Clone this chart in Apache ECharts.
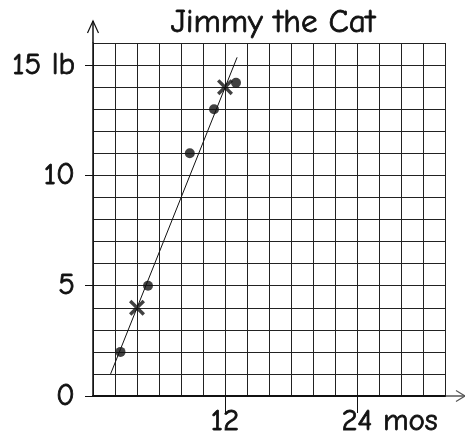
<!DOCTYPE html>
<html>
<head>
<meta charset="utf-8">
<script src="https://cdn.jsdelivr.net/npm/echarts@6/dist/echarts.min.js"></script>
<style>
html,body{margin:0;padding:0;background:#fff;}
#c{width:465px;height:438px;}
</style>
</head>
<body>
<div id="c"></div>
<script>
// ---- data ----
var titleText = 'Jimmy the Cat';
var xTickValues = [12, 24];
var xTickLabels = ['12', '24 mos'];
var yTickValues = [0, 5, 10, 15];
var yTickLabels = ['0', '5', '10', '15 lb'];
var dotMonths = [2.5, 5, 8.8, 11, 13];
var dotWeights = [2, 5, 11, 13, 14.2];
var crossMonths = [4, 12];
var crossWeights = [4, 14];
var trendMonths = [1.6, 13.1];
var trendWeights = [1, 15.35];

var FONT = '"Comic Sans MS", "Comic Neue", "DejaVu Sans", sans-serif';
var INK = '#111';
var LABEL_SIZE = 31;
var THICK = {textBorderColor: INK, textBorderWidth: 0.8};

function pairs(xs, ys) { return xs.map(function (x, i) { return [x, ys[i]]; }); }
function textWidth(s, size) {
  var cv = document.createElement('canvas').getContext('2d');
  cv.font = size + 'px ' + FONT;
  return cv.measureText(s).width;
}
function ext(a, b) { return Object.assign({}, a, b); }

var chart = echarts.init(document.getElementById('c'), null, {renderer: 'canvas'});
var gridAxisCommon = {
  type: 'value', show: true,
  axisLine: {show: false}, axisTick: {show: false}, axisLabel: {show: false},
  splitLine: {show: true, lineStyle: {color: '#222', width: 1}}
};
var labelText = ext({fontSize: LABEL_SIZE, fontFamily: FONT, color: INK}, THICK);
var option = {
  animation: false,
  backgroundColor: '#fff',
  title: {
    text: titleText,
    left: 268, top: 1, textAlign: 'center',
    textStyle: ext({fontFamily: FONT, fontSize: 33, fontWeight: 'normal', color: INK}, THICK)
  },
  grid: {left: 93, right: 20, top: 43, bottom: 42, containLabel: false},
  xAxis: [
    ext(gridAxisCommon, {min: 0, max: 32, interval: 2, position: 'bottom'}),
    {
      type: 'value', min: 0, max: 32, interval: 12, position: 'bottom',
      axisLine: {show: true, onZero: false, lineStyle: {color: INK, width: 2}},
      axisTick: {show: true, customValues: xTickValues, length: 17, lineStyle: {color: INK, width: 1}},
      axisLabel: ext(labelText, {
        show: true, customValues: xTickValues, margin: 10,
        formatter: function (v) {
          var i = xTickValues.indexOf(v);
          var s = i >= 0 ? xTickLabels[i] : '';
          if (s.indexOf(' ') > 0) {
            var parts = s.split(' ');
            return '{pad|}{n|' + parts[0] + '}{u| ' + parts.slice(1).join(' ') + '}';
          }
          return s;
        },
        rich: {
          pad: {width: textWidth(' mos', LABEL_SIZE), fontSize: LABEL_SIZE, fontFamily: FONT},
          n: labelText,
          u: labelText
        }
      }),
      splitLine: {show: false}
    }
  ],
  yAxis: [
    ext(gridAxisCommon, {min: 0, max: 16, interval: 1, position: 'left'}),
    {
      type: 'value', min: 0, max: 16, interval: 5, position: 'left',
      axisLine: {show: true, onZero: false, lineStyle: {color: INK, width: 1.5}},
      axisTick: {show: true, customValues: yTickValues, length: 8, lineStyle: {color: INK, width: 1}},
      axisLabel: ext(labelText, {
        show: true, customValues: yTickValues, margin: 18,
        formatter: function (v) {
          var i = yTickValues.indexOf(v);
          return i >= 0 ? yTickLabels[i] : '';
        }
      }),
      splitLine: {show: false}
    }
  ],
  series: [
    {
      type: 'line', data: pairs(trendMonths, trendWeights),
      xAxisIndex: 0, yAxisIndex: 0,
      showSymbol: false, symbol: 'none',
      lineStyle: {color: INK, width: 1}, z: 3
    },
    {
      type: 'scatter', data: pairs(dotMonths, dotWeights),
      xAxisIndex: 0, yAxisIndex: 0,
      symbol: 'circle', symbolSize: 10,
      itemStyle: {color: INK}, z: 4
    },
    {
      type: 'scatter', data: pairs(crossMonths, crossWeights),
      xAxisIndex: 0, yAxisIndex: 0,
      symbol: 'path://M3,0L10,7L17,0L20,3L13,10L20,17L17,20L10,13L3,20L0,17L7,10L0,3Z',
      symbolSize: 16,
      itemStyle: {color: INK}, z: 5
    }
  ]
};
chart.setOption(option);

// axis arrow decorations (extend axes beyond the grid)
var origin = chart.convertToPixel({xAxisIndex: 0, yAxisIndex: 0}, [0, 0]);
var yTop = chart.convertToPixel({xAxisIndex: 0, yAxisIndex: 0}, [0, 16]);
var xEnd = chart.convertToPixel({xAxisIndex: 0, yAxisIndex: 0}, [32, 0]);
var yTipY = yTop[1] - 22;
var xTipX = xEnd[0] + 20;
chart.setOption({
  graphic: [
    {type: 'polyline', silent: true, shape: {points: [[origin[0], yTop[1]], [origin[0], yTipY]]}, style: {stroke: INK, lineWidth: 1.5}},
    {type: 'polyline', silent: true, shape: {points: [[origin[0] - 5.5, yTipY + 12], [origin[0], yTipY], [origin[0] + 5.5, yTipY + 12]]}, style: {stroke: INK, lineWidth: 1.2, fill: null}},
    {type: 'polyline', silent: true, shape: {points: [[xEnd[0], origin[1]], [xTipX, origin[1]]]}, style: {stroke: '#555', lineWidth: 1.5}},
    {type: 'polyline', silent: true, shape: {points: [[xTipX - 9, origin[1] - 5.5], [xTipX, origin[1]], [xTipX - 9, origin[1] + 5.5]]}, style: {stroke: '#555', lineWidth: 1.2, fill: null}}
  ]
});
</script>
</body>
</html>
